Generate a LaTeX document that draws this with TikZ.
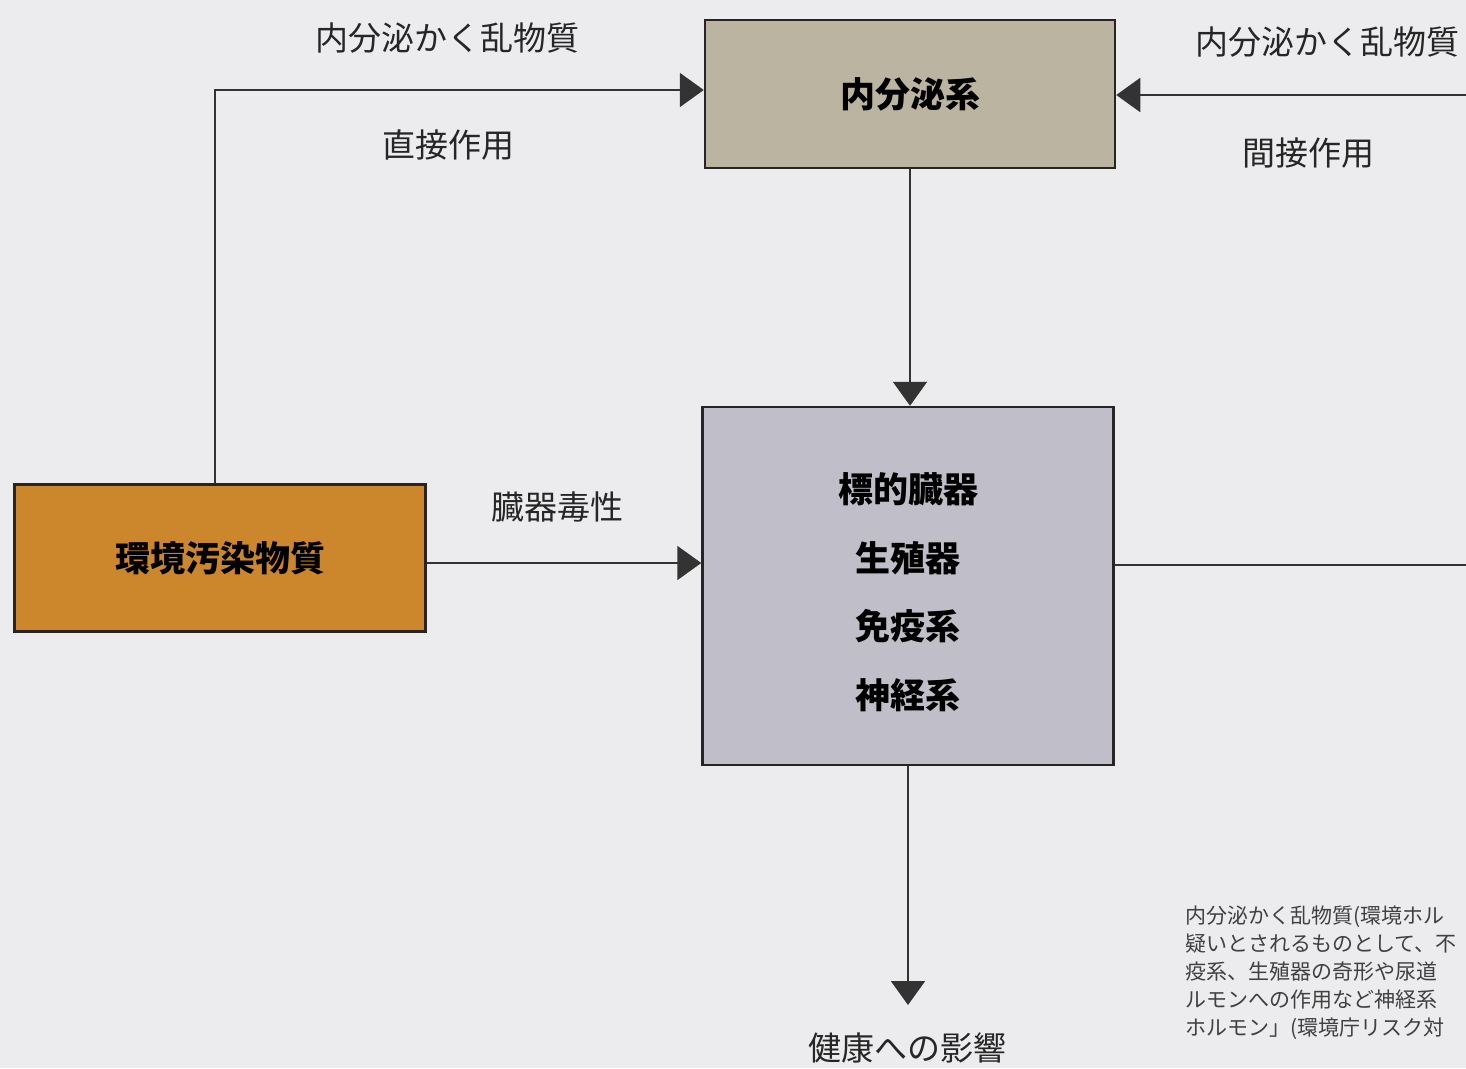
\documentclass[tikz,border=0pt]{standalone}
\usepackage{fontspec}
\newfontfamily\cjk{Noto Sans CJK JP}
\usetikzlibrary{arrows.meta}
\definecolor{bg}{RGB}{236,236,238}
\definecolor{beige}{RGB}{186,180,160}
\definecolor{ochre}{RGB}{204,134,44}
\definecolor{lilac}{RGB}{192,190,200}
\definecolor{edge}{RGB}{40,36,36}
\tikzset{
  box/.style={draw=edge, line width=2.5pt, minimum width=#1, inner sep=0pt, font=\cjk\bfseries\fontsize{35}{42}\selectfont},
  lbl/.style={inner sep=0pt, font=\cjk\fontsize{33}{40}\selectfont, text=black!85},
  conn/.style={draw=black!80, line width=2pt},
  arr/.style={conn, -{Triangle[length=24pt,width=34pt]}},
}
\begin{document}
\begin{tikzpicture}[x=1pt,y=-1pt]
\useasboundingbox (0,0) rectangle (1466,1068);
\fill[bg] (0,0) rectangle (1466,1068);
\begin{scope}
\clip (0,0) rectangle (1466,1068);
% boxes
\node[box=410pt, minimum height=148pt, fill=beige] (endo) at (910,94) {内分泌系};
\node[box=411pt, minimum height=358pt, fill=lilac] (target) at (908,586) {};
\node[inner sep=0pt, align=center, font=\cjk\bfseries\fontsize{35}{68.5}\selectfont]
  (targettext) at ([yshift=-6pt]target.center) {標的臓器\\生殖器\\免疫系\\神経系};
\node[box=411pt, minimum height=147pt, fill=ochre] (env) at (220,558) {環境汚染物質};
% connectors
\coordinate (c1) at (215,90);
\coordinate (rin) at (1466,95);
\coordinate (rout) at (1466,565);
\coordinate (health) at (908,1005);
\draw[arr] (env.north -| c1) -- (c1) -- (endo.west |- c1);
\draw[arr] (rin) -- (endo.east |- rin);
\draw[arr] (env.east |- 0,563) -- (target.west |- 0,563);
\draw[arr] (endo.south) -- (endo.south |- target.north);
\draw[conn] (target.east |- rout) -- (rout);
\draw[arr] (target.south) -- (health);
% labels
\node[lbl] (l1) at (447,38) {内分泌かく乱物質};
\node[lbl] (l2) at (448,145) {直接作用};
\node[lbl] (l3) at (1327,42) {内分泌かく乱物質};
\node[lbl] (l4) at (1308,153) {間接作用};
\node[lbl] (l5) at (557,507) {臓器毒性};
\node[lbl] (l6) at (907,1048) {健康への影響};
% cropped caption
\node[anchor=north west, inner sep=0pt, align=left, text=black!75,
      font=\cjk\fontsize{21}{28}\selectfont] (cap) at (1185,906)
  {内分泌かく乱物質(環境ホル\\疑いとされるものとして、不\\疫系、生殖器の奇形や尿道\\ルモンへの作用など神経系\\ホルモン」(環境庁リスク対};
\end{scope}
\end{tikzpicture}
\end{document}
